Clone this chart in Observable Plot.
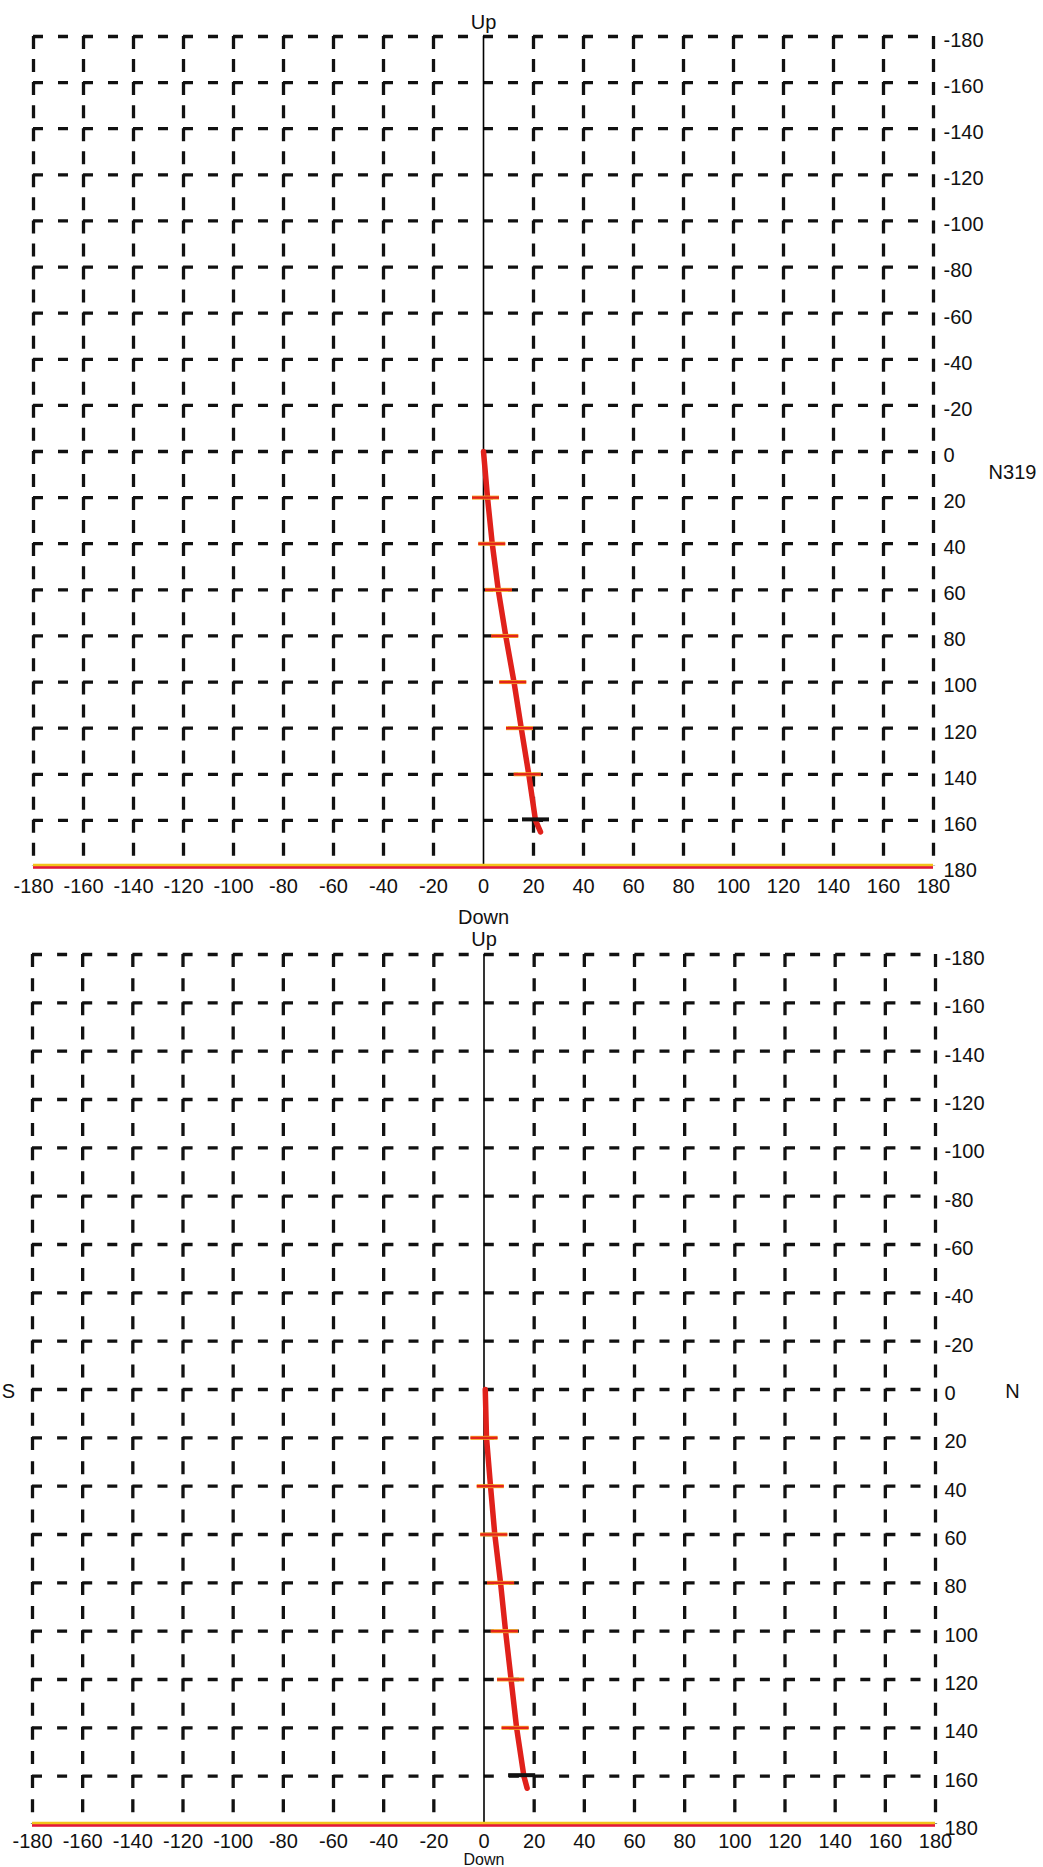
<!DOCTYPE html>
<html>
<head>
<meta charset="utf-8">
<script src="https://cdn.jsdelivr.net/npm/d3@7"></script>
<script src="https://cdn.jsdelivr.net/npm/@observablehq/plot@0.6"></script>
<style>
  body { margin: 0; background: #fff; }
  #wrap { position: relative; width: 1043px; height: 1867px; overflow: hidden; background: #fff; }
  .panel { position: absolute; left: 0; }
  .panel svg { overflow: visible; }
</style>
</head>
<body>
<div id="wrap">
  <div class="panel" id="p1" style="top:0px"></div>
  <div class="panel" id="p2" style="top:930px"></div>
</div>
<script>
// ---- Data ----
const gridTicks = [-180, -160, -140, -120, -100, -80, -60, -40, -20, 0, 20, 40, 60, 80, 100, 120, 140, 160, 180];
const lineDepths = [0, 20, 40, 60, 80, 100, 120, 140, 160, 165];
const panel1Line = [0, 1.6, 3.5, 5.9, 8.9, 12.2, 15.1, 18.1, 20.8, 22.8];
const panel2Line = [0.5, 1.0, 2.6, 4.3, 6.6, 8.6, 10.8, 13.0, 15.9, 17.2];
const markDepths = [20, 40, 60, 80, 100, 120, 140, 160];
const panel1Marks = [0.8, 3.3, 6.0, 8.5, 11.7, 14.4, 17.5, 20.8];
const panel2Marks = [0.0, 2.5, 3.9, 6.6, 8.1, 10.6, 12.4, 15.0];
const markKinds = ["red", "red", "red", "red", "red", "red", "red", "black"];
const markHalfWidth = 5.4;

const FONT = '"Liberation Sans", Arial, Helvetica, sans-serif';
const fmt = d => String(d);

function labelMarks(list) {
  return list.map(l => Plot.text([l], {x: "x", y: "y", text: "t", dx: l.dx, dy: l.dy, fontSize: l.size || 20, fill: "#111", textAnchor: "middle"}));
}

function buildPanel(cfg) {
  const lineData = lineDepths.map((d, i) => ({depth: d, x: cfg.line[i]}));
  const markData = markDepths.map((d, i) => ({depth: d, x: cfg.marks[i], kind: markKinds[i]}));
  const redMarks = markData.filter(d => d.kind === "red");
  const blackMarks = markData.filter(d => d.kind === "black");
  return Plot.plot({
    width: 1043,
    height: cfg.height,
    marginTop: cfg.mt,
    marginBottom: cfg.mb,
    marginLeft: cfg.ml,
    marginRight: cfg.mr,
    x: {domain: [-180, 180], axis: null},
    y: {domain: [-180, 180], reverse: true, axis: null},
    style: {fontFamily: FONT, fontSize: "20px", background: "transparent", color: "#111", overflow: "visible"},
    marks: [
      Plot.ruleX(gridTicks.filter(d => d !== 0), {
        x: d => d, y1: () => -180, y2: () => 180,
        stroke: "#111", strokeWidth: 3.3, strokeDasharray: cfg.vDash
      }),
      Plot.ruleY(gridTicks.filter(d => d !== 180), {
        y: d => d, x1: () => -180, x2: () => 180,
        stroke: "#111", strokeWidth: 3.3, strokeDasharray: cfg.hDash
      }),
      Plot.ruleX([0], {x: d => d, y1: () => -180, y2: () => 180, stroke: "#000", strokeWidth: 1.6}),
      Plot.ruleY([180], {y: d => d, x1: () => -180, x2: () => 180, stroke: "#f2c31b", strokeWidth: 4.5, dy: -0.5}),
      Plot.ruleY([180], {y: d => d, x1: () => -180, x2: () => 180, stroke: "#e3163e", strokeWidth: 2.5, dy: 1}),
      Plot.line(lineData, {x: "x", y: "depth", stroke: "#e0211b", strokeWidth: 5.5, strokeLinecap: "round", strokeLinejoin: "round"}),
      Plot.link(redMarks, {x1: d => d.x - markHalfWidth, x2: d => d.x + markHalfWidth, y1: "depth", y2: "depth", stroke: "#f6a623", strokeWidth: 4}),
      Plot.link(redMarks, {x1: d => d.x - markHalfWidth, x2: d => d.x + markHalfWidth, y1: "depth", y2: "depth", stroke: "#e3221c", strokeWidth: 2.4}),
      Plot.link(blackMarks, {x1: d => d.x - markHalfWidth, x2: d => d.x + markHalfWidth, y1: "depth", y2: "depth", stroke: "#111", strokeWidth: 4, dy: -1}),
      Plot.axisY(gridTicks, {anchor: "right", label: null, tickSize: 0, tickPadding: cfg.yPad, tickFormat: fmt, fontSize: 20, dy: cfg.yDy, fill: "#111", textAnchor: "start"}),
      Plot.axisX(gridTicks, {anchor: "bottom", label: null, tickSize: 0, tickPadding: cfg.xPad, tickFormat: fmt, fontSize: 20, fill: "#111"}),
      ...labelMarks(cfg.labels)
    ]
  });
}

const panel1 = buildPanel({
  line: panel1Line, marks: panel1Marks,
  height: 930, mt: 36, mb: 64, ml: 33, mr: 110,
  vDash: "13,10.05", hDash: "10,15",
  yPad: 10, yDy: 4, xPad: 12,
  labels: [
    {x: 0, y: -180, t: "Up", dx: 0, dy: -14},
    {x: 0, y: 180, t: "Down", dx: 0, dy: 51},
    {x: 180, y: 9, t: "N319", dx: 79, dy: 0}
  ]
});

const panel2 = buildPanel({
  line: panel2Line, marks: panel2Marks,
  height: 937, mt: 24, mb: 43, ml: 32, mr: 108,
  vDash: "13,11.15", hDash: "10,15.1",
  yPad: 9, yDy: 4, xPad: 9,
  labels: [
    {x: 0, y: -180, t: "Up", dx: 0, dy: -15},
    {x: 0, y: 180, t: "Down", dx: 0, dy: 35, size: 16},
    {x: 180, y: 0, t: "N", dx: 77, dy: 2},
    {x: -180, y: 0, t: "S", dx: -24, dy: 2}
  ]
});

document.getElementById("p1").appendChild(panel1);
document.getElementById("p2").appendChild(panel2);
</script>
</body>
</html>
